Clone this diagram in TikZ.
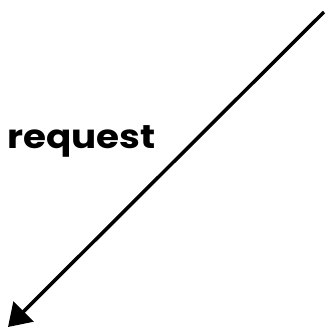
\documentclass[tikz,border=0pt]{standalone}
\usepackage{fontspec}
\setmainfont{Poppins}
\newfontfamily\reqfont[FakeStretch=1.13]{Poppins}
\usetikzlibrary{arrows.meta}
\begin{document}
\begin{tikzpicture}[x=1pt,y=1pt,
  conn/.style={line width=3.5pt,-{Triangle[length=22pt,width=28pt]}},
  lbl/.style={font=\reqfont\bfseries\fontsize{33}{40}\selectfont,inner sep=0pt}]
\useasboundingbox (0,0) rectangle (329,333);
\coordinate (src) at (324,321);
\coordinate (dst) at (8,6);
\draw[conn] (src) -- (dst);
\node[lbl,anchor=base west] (req) at (7,185) {request};
\end{tikzpicture}
\end{document}
